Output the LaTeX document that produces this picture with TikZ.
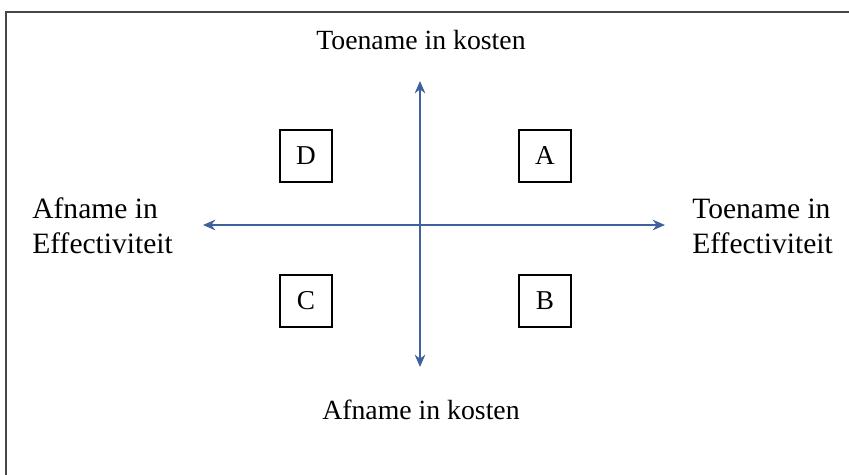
\documentclass[tikz,border=0pt]{standalone}
\usepackage{fontspec}
\setmainfont{Liberation Serif}
\usetikzlibrary{arrows.meta}
\definecolor{axisblue}{RGB}{62,98,158}
\definecolor{framegray}{RGB}{70,70,70}
\tikzset{
  axis/.style={draw=axisblue, line width=1.1pt, {Stealth[length=7pt,width=6pt]}-{Stealth[length=7pt,width=6pt]}},
  quad/.style={draw, line width=0.9pt, minimum size=1.04cm, inner sep=0pt, font=\fontsize{15.5}{15.5}\selectfont},
  lbl/.style={font=\fontsize{15.8}{18}\selectfont, inner sep=0pt, align=left},
  sidelbl/.style={font=\fontsize{16.8}{19.8}\selectfont, inner sep=0pt, align=left, anchor=west}
}
\begin{document}
\begin{tikzpicture}[x=0.02cm, y=-0.02cm]
        \useasboundingbox (0, 0) rectangle (849, 474);
        \draw[framegray, line width=1.3pt] (6, 12) rectangle (860, 490);
        % axes
        \coordinate (top) at (420, 81);
        \coordinate (bottom) at (420, 367);
        \coordinate (left) at (203, 225);
        \coordinate (right) at (665, 225);
        \draw[axis] (top) -- (bottom);
        \draw[axis] (left) -- (right);
        % labels
        \node[lbl] (kup) at (421, 40) {Toename in kosten};
        \node[lbl] (kdown) at (421, 410) {Afname in kosten};
        \node[sidelbl] (eleft) at (32, 226) {Afname in\\Effectiviteit};
        \node[sidelbl] (eright) at (692, 226) {Toename in\\Effectiviteit};
        % quadrants
        \node[quad] (D) at (306, 156) {D};
        \node[quad] (A) at (545, 156) {A};
        \node[quad] (C) at (306, 301) {C};
        \node[quad] (B) at (545, 301) {B};
    \end{tikzpicture}
\end{document}
